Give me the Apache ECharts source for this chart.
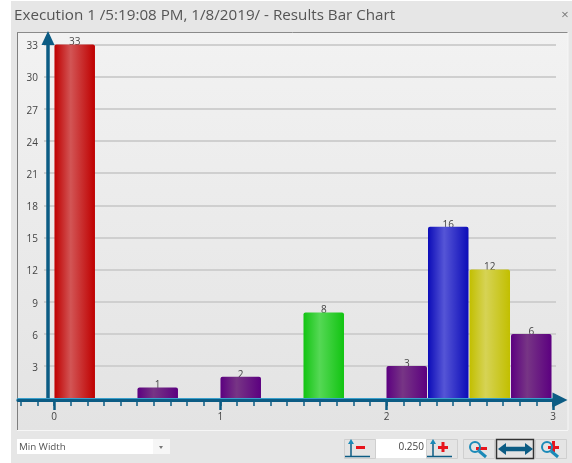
<!DOCTYPE html>
<html><head><meta charset="utf-8">
<style>html,body{margin:0;padding:0;background:#fff}#c{width:572px;height:463px}</style>
<script src="https://cdn.jsdelivr.net/npm/echarts@6/dist/echarts.min.js"></script>
</head><body><div id="c"></div>
<script>
const titleText = 'Execution 1 /5:19:08 PM, 1/8/2019/ - Results Bar Chart';
const binStarts = [0, 0.5, 1, 1.5, 2, 2.25, 2.5, 2.75];
const binEnds   = [0.25, 0.75, 1.25, 1.75, 2.25, 2.5, 2.75, 3];
const counts    = [33, 1, 2, 8, 3, 16, 12, 6];
const barEdge   = ['#bf0000','#5c0080','#5c0080','#12c412','#5c0080','#0c0cb8','#c2bf00','#5c0080'];
const barMid    = ['#d25555','#773585','#773585','#55d855','#773585','#5555d6','#d6d355','#773585'];
const xMajorTicks = [0, 1, 2, 3];
const xMinorTicks = [-0.2,-0.1,0,0.1,0.2,0.3,0.4,0.5,0.6,0.7,0.8,0.9,1,1.1,1.2,1.3,1.4,1.5,1.6,1.7,1.8,1.9,2,2.1,2.2,2.3,2.4,2.5,2.6,2.7,2.8,2.9,3];
const selectText = 'Min Width';
const stepText = '0.250';

const AXIS = '#0c5c84', BLUE = '#1b8ab8', RED = '#e8141c', FONT = '"Open Sans","Noto Sans",sans-serif';
const rect = (x,y,w,h,fill,extra) => ({type:'rect',shape:{x,y,width:w,height:h},style:Object.assign({fill},extra||{}),z:-5,silent:true});
const line = (x1,y1,x2,y2,stroke,lineWidth) => ({type:'line',shape:{x1,y1,x2,y2},style:{stroke,lineWidth},z:-4,silent:true});
const poly = (points,fill) => ({type:'polygon',shape:{points},style:{fill},z:-4,silent:true});
const txt = (x,y,text,size,fill,align) => ({type:'text',x,y,style:{text,font:size+'px '+FONT,fill,textAlign:align||'left',textVerticalAlign:'middle'},z:-3,silent:true});
const btn = (x,w,selected) => rect(x+.5,439.5,w,19,selected?'#e2e2e2':'#e4e4e4',{stroke:selected?'#333':'#cfcfcf',lineWidth:selected?1.5:1});
const axisIcon = x => [line(x,442,x,457,AXIS,1.5),poly([[x-3,444],[x,439],[x+3,444]],BLUE),line(x-6,456.5,x+19,456.5,AXIS,1.5)];
const lens = (cx) => [{type:'circle',shape:{cx,cy:447,r:5},style:{fill:'none',stroke:BLUE,lineWidth:2},z:-4,silent:true},line(cx+4,451,cx+11,457,BLUE,3)];

const graphicEls = [
  rect(11,1,561,462,'#e6e6e6'),
  rect(17,32,551,398,{type:'linear',x:0,y:0,x2:0,y2:1,colorStops:[{offset:0,color:'#f2f2f2'},{offset:1,color:'#e3e3e3'}]}),
  line(17.5,32,17.5,430,'#7f7f7f',1), line(17,32.5,568,32.5,'#8a8a8a',1),
  line(17,430.5,568,430.5,'#f6f6f6',1), line(568,32,568,430,'#f6f6f6',1),
  txt(14,16,titleText,15.2,'#555'),
  txt(565,15,'×',13,'#777','center'),
  rect(17,439,153,15,'#fff'), rect(153,439,17,15,'#f6f6f6'),
  txt(19,447,selectText,9.8,'#555'),
  poly([[159,446],[163,446],[161,449]],'#777'),
  btn(344,31), rect(376,439,50,19,'#fff'), txt(424,447,stepText,10,'#444','right'), btn(426,31),
  btn(463,31), btn(496,37,true), btn(535,31),
  ...axisIcon(351), rect(356,446,9,3,RED),
  ...axisIcon(433), rect(438,446,10,3,RED), rect(441.5,442,3,10,RED),
  ...lens(475), rect(476,447,11,3,RED),
  line(503,449,527,449,AXIS,4.5), poly([[498,449],[506,443],[506,455]],AXIS), poly([[533,449],[525,443],[525,455]],AXIS),
  ...lens(547), rect(548,446,11,3,RED), rect(552,441,3,11,RED)
];

const tickFont = {color:'#444',fontSize:10,fontFamily:FONT};
const chart = echarts.init(document.getElementById('c'),null,{renderer:'canvas'});
chart.setOption({
  animation:false,
  backgroundColor:'#fff',
  graphic:{elements:graphicEls},
  grid:[
    {left:44,right:16,top:44.5,bottom:64.8,containLabel:false},
    {left:18,right:12,top:38,bottom:63,containLabel:false}
  ],
  xAxis:[
    {type:'value',gridIndex:0,min:-0.06,max:3.024,show:false},
    {type:'value',gridIndex:1,position:'bottom',min:-0.217,max:3.042,z:5,
     splitLine:{show:false},axisLabel:{show:false},
     axisLine:{show:true,onZero:false,symbol:['none','triangle'],symbolSize:[15,15],lineStyle:{color:AXIS,width:3,shadowColor:'#3aa0cc',shadowOffsetY:-1}},
     axisTick:{show:true,length:6,customValues:xMinorTicks,lineStyle:{color:AXIS,width:1.5}}},
    {type:'value',gridIndex:1,position:'bottom',min:-0.217,max:3.042,z:5,
     splitLine:{show:false},
     axisLine:{show:false,onZero:false},
     axisTick:{show:true,length:10,customValues:xMajorTicks,lineStyle:{color:AXIS,width:2.5}},
     axisLabel:Object.assign({show:true,customValues:xMajorTicks,margin:12,formatter:v=>String(v)},tickFont)}
  ],
  yAxis:[
    {type:'value',gridIndex:0,min:0,max:33,interval:3,offset:-4,
     axisLine:{show:false,onZero:false},axisTick:{show:false},
     axisLabel:Object.assign({showMinLabel:false,margin:10,verticalAlign:'top',lineHeight:4},tickFont),
     splitLine:{show:true,showMinLine:false,lineStyle:{color:'#cfcfcf',width:2}}},
    {type:'value',gridIndex:1,min:0,max:33,offset:-30,z:5,
     splitLine:{show:false},axisLabel:{show:false},axisTick:{show:false},
     axisLine:{show:true,onZero:false,symbol:['none','triangle'],symbolSize:[13,14],lineStyle:{color:AXIS,width:3.5}}}
  ],
  series:[{
    type:'custom',xAxisIndex:0,yAxisIndex:0,z:2,clip:false,
    encode:{x:[0,1],y:2},
    data:counts.map((c,i)=>[binStarts[i],binEnds[i],c,i]),
    renderItem:(params,api)=>{
      const a=api.coord([api.value(0),api.value(2)]), b=api.coord([api.value(1),0]);
      const i=api.value(3), x=a[0]+.5, w=b[0]-a[0]-1, y=a[1], h=b[1]-a[1];
      return {type:'group',children:[
        {type:'text',style:{text:String(api.value(2)),x:x+w/2,y:y+3,textAlign:'center',textVerticalAlign:'bottom',font:'10px '+FONT,fill:'#444'}},
        {type:'rect',shape:{x,y,width:w,height:h,r:[2,2,0,0]},style:{
          fill:new echarts.graphic.LinearGradient(0,0,1,0,[{offset:0,color:barEdge[i]},{offset:.4,color:barMid[i]},{offset:1,color:barEdge[i]}])}}
      ]};
    }
  }]
});
</script></body></html>
